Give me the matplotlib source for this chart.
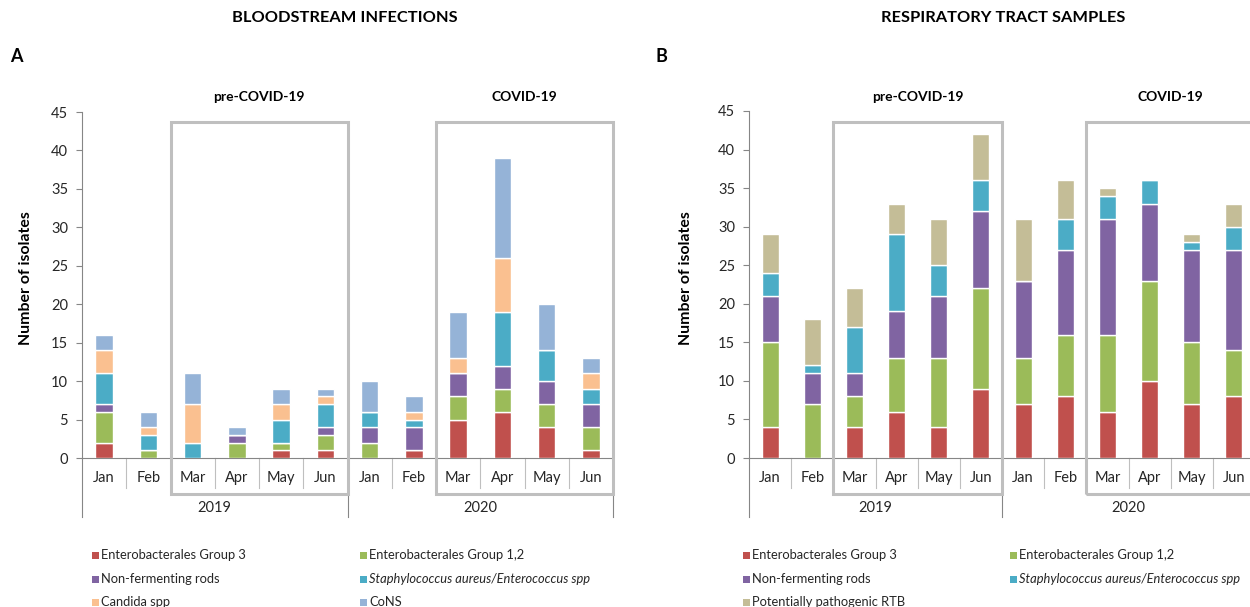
import numpy as np
import matplotlib
matplotlib.use('Agg')
import matplotlib.pyplot as plt
import matplotlib.transforms as mtransforms
from matplotlib.patches import Rectangle

plt.rcParams['font.family'] = ['Lato', 'DejaVu Sans']

W, H = 1250, 607

months = ['Jan', 'Feb', 'Mar', 'Apr', 'May', 'Jun'] * 2
years = ['2019', '2020']
periods = ['pre-COVID-19', 'COVID-19']

# Bloodstream infections (panel A)
bsi_group3 = [2, 0, 0, 0, 1, 1, 0, 1, 5, 6, 4, 1]
bsi_group12 = [4, 1, 0, 2, 1, 2, 2, 0, 3, 3, 3, 3]
bsi_nonferm = [1, 0, 0, 1, 0, 1, 2, 3, 3, 3, 3, 3]
bsi_staph = [4, 2, 2, 0, 3, 3, 2, 1, 0, 7, 4, 2]
bsi_candida = [3, 1, 5, 0, 2, 1, 0, 1, 2, 7, 0, 2]
bsi_cons = [2, 2, 4, 1, 2, 1, 4, 2, 6, 13, 6, 2]

# Respiratory tract samples (panel B)
rts_group3 = [4, 0, 4, 6, 4, 9, 7, 8, 6, 10, 7, 8]
rts_group12 = [11, 7, 4, 7, 9, 13, 6, 8, 10, 13, 8, 6]
rts_nonferm = [6, 4, 3, 6, 8, 10, 10, 11, 15, 10, 12, 13]
rts_staph = [3, 1, 6, 10, 4, 4, 0, 4, 3, 3, 1, 3]
rts_rtb = [5, 6, 5, 4, 6, 6, 8, 5, 1, 0, 1, 3]

lbl_g3 = 'Enterobacterales Group 3'
lbl_g12 = 'Enterobacterales Group 1,2'
lbl_nf = 'Non-fermenting rods'
lbl_st = 'Staphylococcus aureus/Enterococcus spp'
lbl_ca = 'Candida spp'
lbl_co = 'CoNS'
lbl_rtb = 'Potentially pathogenic RTB'

c_red = '#C0504D'
c_green = '#9BBB59'
c_purple = '#8064A2'
c_teal = '#4BACC6'
c_orange = '#FAC090'
c_blue = '#95B3D7'
c_tan = '#C4BD97'

axis_gray = '#868686'
box_gray = '#BFBFBF'
txt = '#262626'


def fx(px):
    return px / W


def fy(px):
    return 1 - px / H


fig = plt.figure(figsize=(W / 100, H / 100), dpi=100)


def draw_panel(left, right, top, series, title, title_x, letter, letter_x, ylabel_x):
    ax = fig.add_axes([fx(left), fy(458), fx(right) - fx(left), fy(top) - fy(458)])
    x = np.arange(12)
    bottom = np.zeros(12)
    for vals, col in series:
        vals = np.array(vals, dtype=float)
        ax.bar(x, vals, 0.4, bottom=bottom, color=col, edgecolor='white', linewidth=1.0, zorder=3)
        bottom += vals
    ax.set_xlim(-0.5, 11.5)
    ax.set_ylim(0, 45)
    ax.set_yticks(range(0, 46, 5))
    ax.tick_params(axis='y', direction='out', length=4, color=axis_gray, labelsize=10.5,
                   labelcolor=txt, pad=6)
    ax.set_xticks([])
    for s in ['top', 'right']:
        ax.spines[s].set_visible(False)
    for s in ['left', 'bottom']:
        ax.spines[s].set_color(axis_gray)
        ax.spines[s].set_linewidth(0.8)

    tr = mtransforms.blended_transform_factory(ax.transData, fig.transFigure)
    # month separators and labels
    for i in range(12):
        ax.text(i, fy(478), months[i], transform=tr, ha='center', va='center',
                fontsize=10.5, color=txt)
    for k in range(13):
        low = 517 if k in (0, 6, 12) else 488
        ax.plot([k - 0.5, k - 0.5], [fy(458), fy(low)], transform=tr,
                color=box_gray if k not in (0, 6, 12) else axis_gray,
                lw=0.8, clip_on=False)
    for j, yr in enumerate(years):
        ax.text(2.5 + 6 * j, fy(508), yr, transform=tr, ha='center', va='center',
                fontsize=10.5, color=txt)

    # period boxes
    for j, per in enumerate(periods):
        x0 = 1.5 + 6 * j
        ax.add_patch(Rectangle((x0, fy(494)), 4, fy(122) - fy(494), transform=tr, fill=False,
                               edgecolor=box_gray, lw=2.2, clip_on=False, zorder=4))
        ax.text(x0 + 2, fy(97), per, transform=tr, ha='center', va='center',
                fontsize=10, fontweight='bold', color='black')

    fig.text(fx(title_x), fy(18), title, ha='center', va='center', fontsize=11.8,
             fontweight='bold', color='black')
    fig.text(fx(letter_x), fy(57), letter, ha='center', va='center', fontsize=13,
             fontweight='bold', color='black')
    fig.text(fx(ylabel_x), fy(278), 'Number of isolates', rotation=90,
             ha='center', va='center', fontsize=11.4, fontweight='bold', color='black')
    return ax


draw_panel(82, 613, 112,
           [(bsi_group3, c_red), (bsi_group12, c_green), (bsi_nonferm, c_purple),
            (bsi_staph, c_teal), (bsi_candida, c_orange), (bsi_cons, c_blue)],
           'BLOODSTREAM INFECTIONS', 345, 'A', 16, 26)
draw_panel(749, 1255, 111,
           [(rts_group3, c_red), (rts_group12, c_green), (rts_nonferm, c_purple),
            (rts_staph, c_teal), (rts_rtb, c_tan)],
           'RESPIRATORY TRACT SAMPLES', 1003, 'B', 661, 686)


def legend_item(xm, yc, label, col, italic=False):
    fig.add_artist(Rectangle((fx(xm), fy(yc + 3.5)), 7 / W, 7 / H, transform=fig.transFigure,
                             facecolor=col, edgecolor='none'))
    fig.text(fx(xm + 9), fy(yc), label, ha='left', va='center', fontsize=9.3, color=txt,
             style='italic' if italic else 'normal')


rows = [555, 579, 602]
legend_item(92, rows[0], lbl_g3, c_red)
legend_item(360, rows[0], lbl_g12, c_green)
legend_item(92, rows[1], lbl_nf, c_purple)
legend_item(360, rows[1], lbl_st, c_teal, italic=True)
legend_item(92, rows[2], lbl_ca, c_orange)
legend_item(360, rows[2], lbl_co, c_blue)

legend_item(743, rows[0], lbl_g3, c_red)
legend_item(1010, rows[0], lbl_g12, c_green)
legend_item(743, rows[1], lbl_nf, c_purple)
legend_item(1010, rows[1], lbl_st, c_teal, italic=True)
legend_item(743, rows[2], lbl_rtb, c_tan)

fig.savefig('out.png', dpi=100)
